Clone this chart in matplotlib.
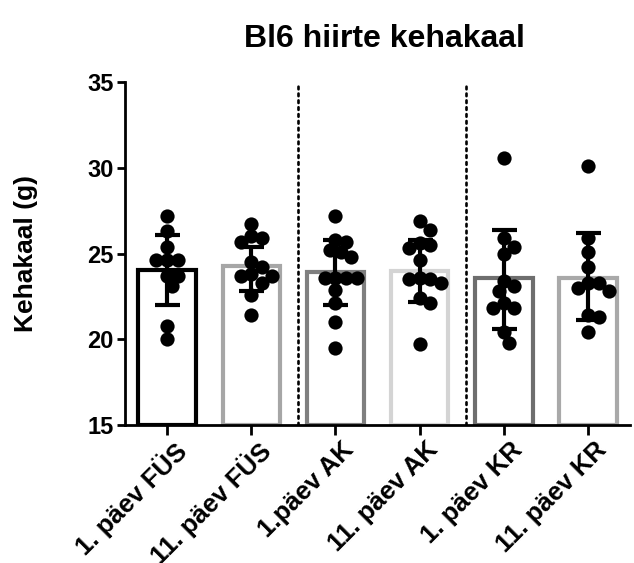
import numpy as np
import matplotlib.pyplot as plt
import matplotlib as mpl

mpl.rcParams["font.family"] = ["Liberation Sans", "DejaVu Sans"]
mpl.rcParams["font.weight"] = "bold"

TITLE = "Bl6 hiirte kehakaal"
YLABEL = "Kehakaal (g)"
groups = ["1. päev FÜS", "11. päev FÜS", "1.päev AK", "11. päev AK", "1. päev KR", "11. päev KR"]
means = [24.05, 24.25, 23.95, 24.0, 23.55, 23.6]
err_lo = [22.0, 22.8, 22.0, 22.2, 20.6, 21.1]
err_hi = [26.1, 25.4, 25.8, 25.8, 26.4, 26.2]
points = [
    [27.2, 26.3, 25.4, 24.6, 24.6, 24.6, 23.7, 23.7, 23.1, 20.8, 20.0],
    [26.7, 26.0, 25.7, 25.9, 24.5, 24.2, 23.8, 23.7, 23.7, 23.3, 22.6, 21.4],
    [27.2, 25.7, 25.8, 25.1, 25.2, 24.8, 23.6, 23.6, 23.6, 23.6, 22.9, 22.1, 21.0, 19.5],
    [26.9, 26.4, 25.6, 25.3, 25.5, 24.6, 23.6, 23.5, 23.5, 23.3, 22.4, 22.1, 19.7],
    [30.6, 25.9, 25.4, 25.0, 23.4, 23.1, 22.8, 22.1, 21.8, 21.8, 20.4, 19.8],
    [30.1, 25.9, 25.1, 24.2, 23.3, 23.3, 22.8, 23.0, 21.4, 21.3, 20.4],
]
edge_colors = ["#000000", "#a6a6a6", "#7f7f7f", "#d4d4d4", "#6e6e6e", "#a9a9a9"]

PX_X = 84.0   # pixels per category
PX_Y = 17.1   # pixels per gram
DOT_PX = 13.5


def swarm(vals, spacing=0.78):
    # simple beeswarm in pixel space, returns x offsets in data units
    d = DOT_PX * spacing
    placed = []
    offs = np.zeros(len(vals))
    order = np.argsort(vals)[::-1]
    for i in order:
        y = vals[i] * PX_Y
        cands = [0.0]
        for n in range(1, 12):
            cands += [n * d * 0.5, -n * d * 0.5]
        for c in cands:
            if all((c - px) ** 2 + (y - py) ** 2 >= d * d for px, py in placed):
                break
        placed.append((c, y))
        offs[i] = c / PX_X
    return offs


fig = plt.figure(figsize=(6.34, 5.63), dpi=100)
ax = fig.add_axes([0.197, 0.245, 0.797, 0.609])

x = np.arange(len(groups))
ax.bar(x, [m - 15 for m in means], bottom=15, width=0.68, color="white",
       edgecolor=edge_colors, linewidth=3, zorder=1)

for i, vals in enumerate(points):
    offs = swarm(vals)
    ax.scatter(x[i] + offs, vals, s=105, color="black", zorder=3, linewidths=0)

ax.errorbar(x, means, yerr=[np.array(means) - np.array(err_lo), np.array(err_hi) - np.array(means)],
            fmt="none", ecolor="black", elinewidth=3, capsize=9, capthick=3, zorder=4)

for xv in [1.55, 3.55]:
    ax.axvline(xv, color="black", linestyle=(0, (1, 1.6)), linewidth=1.9, dash_capstyle="round", zorder=0)

ax.set_xlim(-0.5, 5.5)
ax.set_ylim(15, 35)
ax.set_yticks([15, 20, 25, 30, 35])
ax.set_xticks(x)
ax.set_xticklabels(groups, rotation=45, ha="right", rotation_mode="anchor", fontsize=18.5, fontweight="bold")
ax.tick_params(axis="y", labelsize=17, width=2, length=6, pad=2)
ax.tick_params(axis="x", width=2, length=7, pad=2)
for lab in ax.get_xticklabels():
    lab.set_transform(lab.get_transform() + mpl.transforms.ScaledTranslation(0.06, 0, fig.dpi_scale_trans))
for lab in ax.get_yticklabels():
    lab.set_fontweight("bold")
ax.spines["top"].set_visible(False)
ax.spines["right"].set_visible(False)
ax.spines["left"].set_linewidth(2)
ax.spines["bottom"].set_linewidth(2)
ax.set_ylabel(YLABEL, fontsize=19, fontweight="bold")
ax.yaxis.set_label_coords(-0.172, 0.5)
fig.text(0.607, 0.93, TITLE, ha="center", va="center", fontsize=23, fontweight="bold")

fig.savefig("out.png", dpi=100)
